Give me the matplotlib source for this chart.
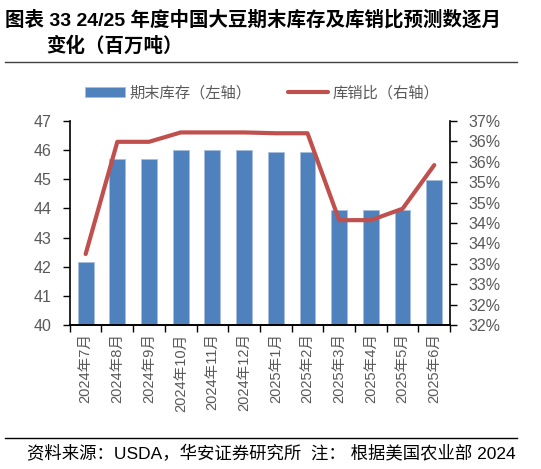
import numpy as np
import matplotlib
matplotlib.use('Agg')
import matplotlib.pyplot as plt
from matplotlib.ticker import FixedLocator, FuncFormatter

plt.rcParams['font.family'] = ['Liberation Sans', 'Noto Sans CJK SC', 'DejaVu Sans']

#monthly labels and values
months = ['2024年7月', '2024年8月', '2024年9月', '2024年10月', '2024年11月', '2024年12月',
          '2025年1月', '2025年2月', '2025年3月', '2025年4月', '2025年5月', '2025年6月']
stocks = [42.17, 45.69, 45.69, 46.01, 46.01, 46.01, 45.95, 45.95, 43.95, 43.95, 43.95, 44.97]
ratio = [33.74, 36.49, 36.49, 36.72, 36.72, 36.72, 36.70, 36.70, 34.57, 34.57, 34.85, 35.92]

title_1 = '图表 33 24/25 年度中国大豆期末库存及库销比预测数逐月'
title_2 = '变化（百万吨）'
source = '资料来源：USDA，华安证券研究所  注： 根据美国农业部 2024'

bar_col = '#4F81BD'
line_col = '#C0504D'
grey = '#595959'

fig = plt.figure(figsize=(5.41, 4.69), dpi=100)
ax = fig.add_axes([0.129, 0.307, 0.703, 0.435])
ax2 = ax.twinx()

x = np.arange(len(months))
ax.bar(x, stocks, width=0.5, color=bar_col, edgecolor='#A6BDDB', linewidth=0.6, zorder=2,
       label='期末库存（左轴）')
ax2.plot(x, ratio, color=line_col, linewidth=3, solid_capstyle='round', label='库销比（右轴）')

ax.set_xlim(-0.5, len(months) - 0.5)
ax.set_ylim(40, 47)
ax.set_yticks(range(40, 48))
ax2.set_ylim(32, 37)
ax2.yaxis.set_major_locator(FixedLocator(np.arange(32, 37.01, 0.5)))
ax2.yaxis.set_major_formatter(FuncFormatter(lambda v, p: '%d%%' % int(np.floor(v + 1e-9))))

# category boundary ticks on x
ax.set_xticks(x)
ax.set_xticklabels(months, rotation=90, color=grey, fontsize=10.5)
ax.tick_params(axis='x', length=0, pad=6)
ax.set_xticks(np.arange(-0.5, len(months), 1), minor=True)
ax.tick_params(axis='x', which='minor', length=5, width=1, direction='out')

ax.tick_params(axis='y', length=5, width=1, direction='out', labelcolor=grey, labelsize=11.5, pad=8)
ax2.tick_params(axis='y', length=5, width=1, direction='out', labelcolor=grey, labelsize=11.5, pad=8)

for a in (ax, ax2):
    a.spines['top'].set_visible(False)
    for s in ('left', 'right', 'bottom'):
        a.spines[s].set_linewidth(1.2)
ax.spines['right'].set_visible(False)
ax2.spines['left'].set_visible(False)

h1, l1 = ax.get_legend_handles_labels()
h2, l2 = ax2.get_legend_handles_labels()
fig.legend(h1 + h2, l1 + l2, loc='center', bbox_to_anchor=(0.485, 0.802), ncol=2, frameon=False,
           fontsize=11, labelcolor=grey, handlelength=2.6, handleheight=0.6,
           handletextpad=0.3, columnspacing=2.4)

#title and footer
fig.text(0.01, 0.959, title_1, fontsize=14, fontweight='bold', ha='left', va='center')
fig.text(0.085, 0.902, title_2, fontsize=14, fontweight='bold', ha='left', va='center')
fig.add_artist(plt.Line2D([0.009, 0.956], [0.867, 0.867], color='#404040', linewidth=1))
fig.add_artist(plt.Line2D([0.009, 0.956], [0.066, 0.066], color='black', linewidth=1))
fig.text(0.05, 0.032, source, fontsize=12.5, ha='left', va='center')

fig.savefig('out.png', dpi=100)
